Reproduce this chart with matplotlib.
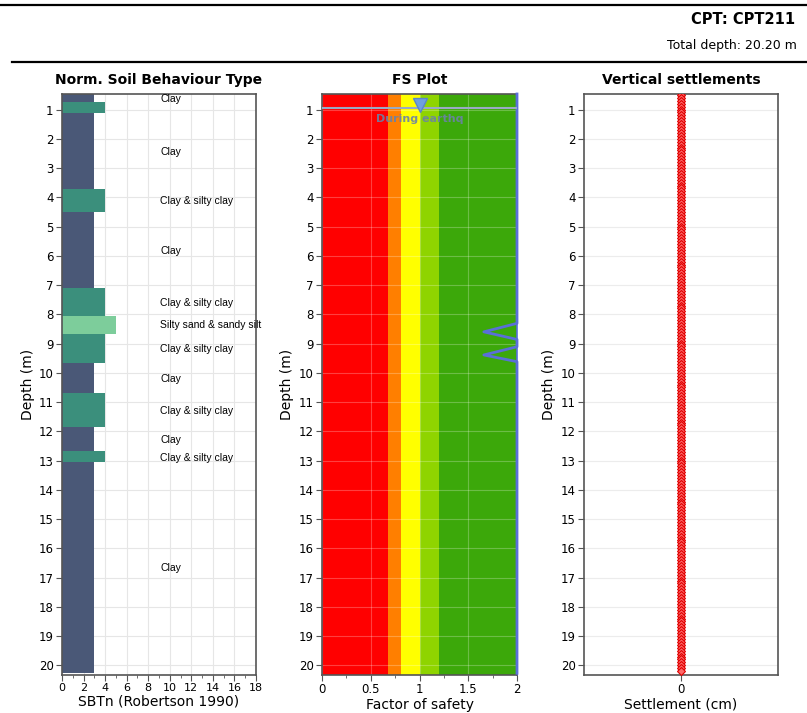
import numpy as np
import matplotlib.pyplot as plt
from matplotlib.lines import Line2D

# soil behaviour type layers (top, bottom, SBTn zone)
layer_top = [0.43, 0.75, 1.13, 3.71, 4.50, 7.10, 8.07, 8.68, 9.68, 10.70, 11.86, 12.66, 13.06]
layer_bot = [0.75, 1.13, 3.71, 4.50, 7.10, 8.07, 8.68, 9.68, 10.70, 11.86, 12.66, 13.06, 20.27]
layer_sbt = [3, 4, 3, 4, 3, 4, 5, 4, 3, 4, 3, 4, 3]

label_depth = [0.64, 2.45, 4.13, 5.83, 7.6, 8.38, 9.2, 10.2, 11.3, 12.3, 12.9, 16.67]
label_text = ['Clay', 'Clay', 'Clay & silty clay', 'Clay', 'Clay & silty clay',
              'Silty sand & sandy silt', 'Clay & silty clay', 'Clay', 'Clay & silty clay',
              'Clay', 'Clay & silty clay', 'Clay']

sbt_colors = {3: '#4a5877', 4: '#3b8f7c', 5: '#7dcd9b'}

# factor of safety zones
fs_edges = [0, 0.68, 0.81, 1.0, 1.2, 2.0]
fs_colors = ['#ff0000', '#ff7f00', '#ffff00', '#8fd400', '#3ca80a']

# FS profile (capped at 2)
fs_depth = [0.47, 8.31, 8.60, 8.86, 9.11, 9.39, 9.62, 20.27]
fs_value = [2.0, 2.0, 1.66, 2.0, 2.0, 1.66, 2.0, 2.0]

water_depth = 0.95

# settlements (all zero) on the 0.1 m CPT grid
set_depth = np.round(np.arange(0.5, 20.25, 0.1), 2)
set_value = np.zeros(len(set_depth))

ylim = (20.33, 0.47)
W, H = 807, 713
fig = plt.figure(figsize=(W / 100, H / 100), dpi=100)
plt.rcParams['font.family'] = ['DejaVu Sans']

spine_c = '#555555'
grid_c = '#e6e6e6'


def px_axes(x0, x1, y0=94, y1=675):
    return fig.add_axes([x0 / W, 1 - y1 / H, (x1 - x0) / W, (y1 - y0) / H])


def style(ax, title):
    ax.set_ylim(*ylim)
    ax.set_yticks(range(1, 21))
    ax.set_ylabel('Depth (m)', fontsize=10, labelpad=3)
    ax.set_title(title, fontsize=10, fontweight='bold', pad=7)
    ax.tick_params(labelsize=8.5, length=4, color=spine_c, pad=2)
    ax.tick_params(which='minor', length=2.5, color=spine_c)
    for s in ax.spines.values():
        s.set_color(spine_c)
        s.set_linewidth(1.2)


# header lines and text
fig.add_artist(Line2D([0, 1], [1 - 5 / H, 1 - 5 / H], color='black', lw=1.6))
fig.add_artist(Line2D([12 / W, 1], [1 - 62 / H, 1 - 62 / H], color='black', lw=1.6))
fig.text(795 / W, 1 - 20 / H, 'CPT: CPT211', ha='right', va='center', fontsize=10.5, fontweight='bold')
fig.text(797 / W, 1 - 46 / H, 'Total depth: 20.20 m', ha='right', va='center', fontsize=9)

# panel 1: SBTn
ax1 = px_axes(62, 256)
for t, b, z in zip(layer_top, layer_bot, layer_sbt):
    ax1.barh((t + b) / 2, z, height=b - t, color=sbt_colors[z], zorder=2)
for d, s in zip(label_depth, label_text):
    ax1.text(9.1, d, s, fontsize=7.5, va='center', ha='left',
             family=['Liberation Sans Narrow', 'Liberation Sans'], zorder=3)
ax1.set_xlim(0, 18)
ax1.set_xticks(range(0, 19, 2))
ax1.set_xticks(range(1, 18, 2), minor=True)
ax1.grid(True, color=grid_c, lw=0.8, zorder=0)
ax1.set_axisbelow(True)
ax1.set_xlabel('SBTn (Robertson 1990)', fontsize=10, labelpad=1)
style(ax1, 'Norm. Soil Behaviour Type')
ax1.tick_params(axis='x', labelsize=8)

# panel 2: FS plot
ax2 = px_axes(322, 517)
for i in range(len(fs_colors)):
    ax2.axvspan(fs_edges[i], fs_edges[i + 1], color=fs_colors[i], lw=0, zorder=1)
ax2.grid(True, color='white', alpha=0.25, lw=0.8, zorder=2)
ax2.plot(fs_value, fs_depth, color='#5a6fd8', lw=2.0, zorder=4, clip_on=False)
ax2.axhline(water_depth, color='#9aaac4', lw=1.5, zorder=5)
ax2.plot([1.0], [water_depth - 0.12], marker='v', ms=10, color='#6f9fe0',
         markeredgecolor='#5a86c8', zorder=6, ls='none')
ax2.text(1.0, water_depth + 0.38, 'During earthq', color='#6b82a8', fontsize=8,
         fontweight='bold', ha='center', va='center', zorder=6, alpha=0.9)
ax2.set_xlim(0, 2)
ax2.set_xticks([0, 0.5, 1, 1.5, 2])
ax2.set_xticklabels(['0', '0.5', '1', '1.5', '2'])
ax2.set_xticks([0.25, 0.75, 1.25, 1.75], minor=True)
ax2.set_xlabel('Factor of safety', fontsize=10, labelpad=1)
style(ax2, 'FS Plot')
ax2.spines['right'].set_color('#5a6fd8')

# panel 3: settlements
ax3 = px_axes(584, 778)
ax3.plot(set_value, set_depth, color='#ff2020', lw=1.2, marker='D', ms=4,
         markerfacecolor='#ff6a6a', markeredgecolor='#e00000', markeredgewidth=0.8, zorder=3)
ax3.set_xlim(-1, 1)
ax3.set_xticks([0])
ax3.grid(True, axis='y', color='#ececec', lw=0.8, zorder=0)
ax3.set_xlabel('Settlement (cm)', fontsize=10, labelpad=1)
style(ax3, 'Vertical settlements')

fig.savefig('out.png', dpi=100)
